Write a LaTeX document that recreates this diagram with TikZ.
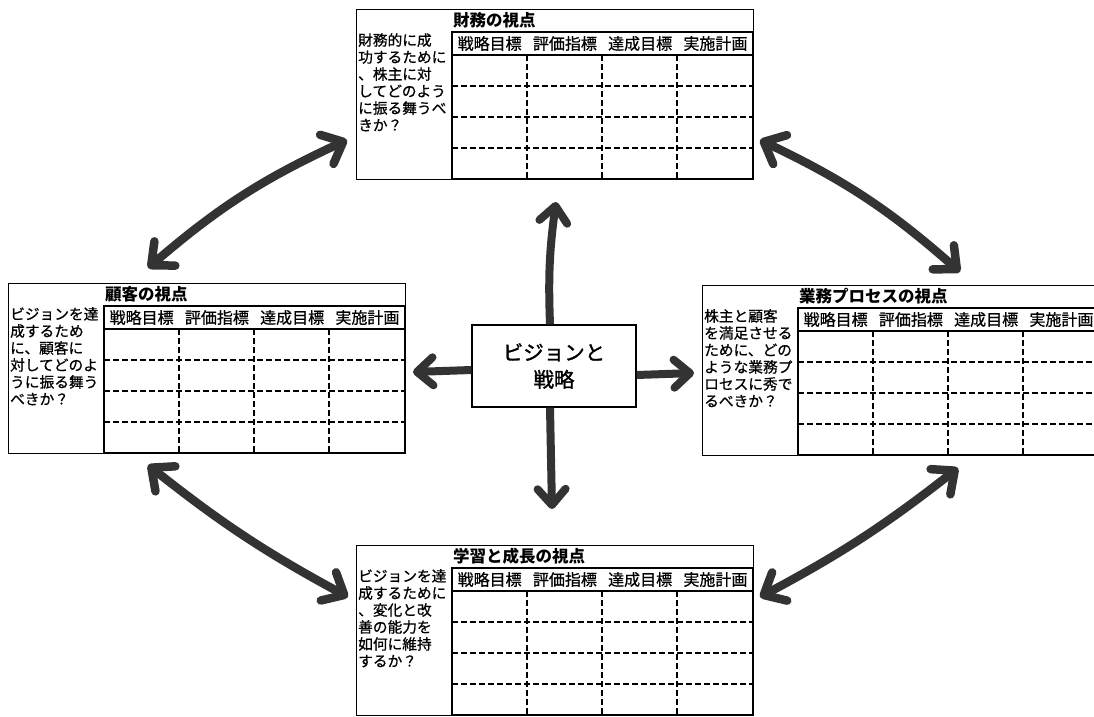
\documentclass[tikz,border=0pt]{standalone}
\usepackage{fontspec}
\newfontfamily\cjk{Noto Sans CJK JP}
\newfontfamily\cjkm{Noto Sans CJK JP}[FakeBold=0.7]
\newfontfamily\cjkc{Noto Sans CJK JP}[FakeBold=1.4]
\usetikzlibrary{arrows.meta}

\tikzset{
  boxline/.style={draw=black, line width=1.3pt},
  dashline/.style={draw=black, line width=1.1pt, dash pattern=on 6pt off 3pt},
  panel/.style={boxline, rectangle, anchor=north west, inner sep=0pt,
    minimum width=397pt, minimum height=170pt},
  qtext/.style={font=\cjkm\fontsize{14.7}{17}\selectfont, align=left,
    anchor=north west, inner sep=0pt},
  headtext/.style={font=\cjkm\fontsize{16}{17}\selectfont, inner sep=0pt},
  titletext/.style={font=\cjk\bfseries\fontsize{16.5}{17}\selectfont,
    anchor=west, inner sep=0pt},
  visbox/.style={boxline, rectangle, minimum width=164pt, minimum height=82pt,
    inner sep=0pt, align=center, font=\cjkc\fontsize{20.5}{27}\selectfont},
  bigarrow/.style={draw=black!80, line width=8pt, line cap=butt,
    -{Straight Barb[length=16pt,width=28pt,line cap=round,line join=round]}},
  dblarrow/.style={draw=black!80, line width=8.5pt, line cap=butt,
    {Straight Barb[length=18pt,width=32pt,line cap=round,line join=round]}-{Straight Barb[length=18pt,width=32pt,line cap=round,line join=round]}},
}

\newcommand\bscpanel[5]{%
  \node[panel] (#1) at (#2,#3) {};
  \draw[boxline] ({#2+96},{#3+23}) rectangle ({#2+397},{#3+170});
  \draw[boxline] ({#2+96},{#3+46}) -- ({#2+397},{#3+46});
  \foreach \r in {77,108,139}
    \draw[dashline] ({#2+96},{#3+\r}) -- ({#2+397},{#3+\r});
  \foreach \c in {171,246,321}
    \draw[dashline] ({#2+\c},{#3+46}) -- ({#2+\c},{#3+170});
  \node[titletext] (#1-title) at ({#2+97},{#3+11.5}) {#4};
  \foreach \t [count=\i] in {戦略目標,評価指標,達成目標,実施計画}
    \node[headtext] (#1-h\i) at ({#2+96+75.25*\i-37.6},{#3+34.5}) {\t};
  \node[qtext] (#1-q) at ({#2+2},{#3+24}) {#5};
}

\begin{document}
\begin{tikzpicture}[x=1pt,y=-1pt]
\useasboundingbox (0,0) rectangle (1094,716);
\fill[white] (0,0) rectangle (1094,716);

\bscpanel{fin}{356}{9}{財務の視点}{財務的に成\\功するために\\、株主に対\\してどのよう\\に振る舞うべ\\きか？}
\bscpanel{cus}{8}{283}{顧客の視点}{ビジョンを達\\成するため\\に、顧客に\\対してどのよ\\うに振る舞う\\べきか？}
\bscpanel{pro}{702}{285}{業務プロセスの視点}{株主と顧客\\を満足させる\\ために、どの\\ような業務プ\\ロセスに秀で\\るべきか？}
\bscpanel{lrn}{356}{545}{学習と成長の視点}{ビジョンを達\\成するために\\、変化と改\\善の能力を\\如何に維持\\するか？}

\node[visbox] (vis) at (554,366) {ビジョンと\\戦略};

% free ends of the arrows
\coordinate (upE) at (556,202);
\coordinate (dnE) at (552,509);
\coordinate (lfE) at (413,372);
\coordinate (rtE) at (694,373);
\coordinate (tl1) at (148,268);
\coordinate (tl2) at (347,140);
\coordinate (tr1) at (760,140);
\coordinate (tr2) at (960,272);
\coordinate (bl1) at (148,465);
\coordinate (bl2) at (348,597);
\coordinate (br1) at (958,468);
\coordinate (br2) at (760,597);

\draw[bigarrow] ([xshift=-4pt]vis.north) to[bend left=5] (upE);
\draw[bigarrow] ([xshift=-4pt]vis.south) -- (dnE);
\draw[bigarrow] ([yshift=-4pt]vis.west) -- (lfE);
\draw[bigarrow] ([yshift=-9pt]vis.east) -- (rtE);

\draw[dblarrow] (tl1) to[bend left=8] (tl2);
\draw[dblarrow] (tr1) to[bend left=8] (tr2);
\draw[dblarrow] (br1) to[bend left=5] (br2);
\draw[dblarrow] (bl2) to[bend left=5] (bl1);
\end{tikzpicture}
\end{document}
